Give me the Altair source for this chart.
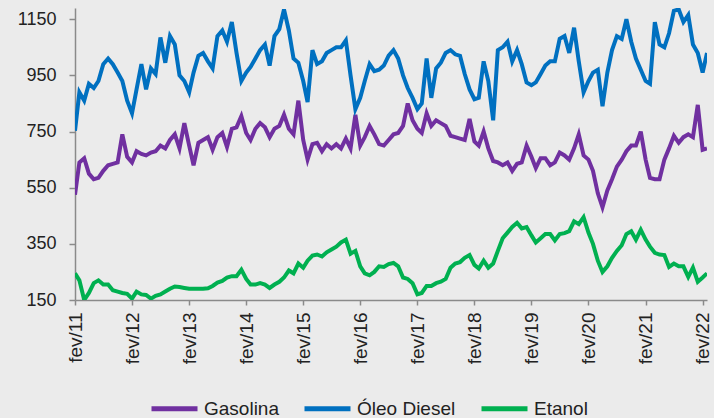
import altair as alt
import pandas as pd

# Monthly series, fev/2011 .. mar/2022
meses = pd.date_range("2011-02-01", periods=134, freq="MS").strftime("%Y-%m-%d").tolist()

gasolina = [
    525, 640, 655, 600, 580, 585, 610, 630, 635, 640, 740, 660,
    640, 680, 670, 665, 675, 680, 700, 690, 720, 740, 690, 780,
    700, 630, 710, 720, 730, 685, 730, 745, 695, 760, 765, 805,
    745, 720, 760, 780, 765, 730, 760, 770, 810, 760, 740, 860,
    720, 650, 705, 710, 680, 705, 690, 705, 690, 725, 690, 810,
    700, 730, 770, 740, 705, 700, 720, 740, 745, 770, 850, 790,
    760, 745, 815, 770, 790, 780, 770, 735, 730, 725, 720, 795,
    715, 700, 750, 690, 645, 640, 630, 640, 610, 635, 640, 700,
    660, 620, 655, 655, 630, 640, 675, 665, 650, 690, 740, 665,
    650, 610, 530, 480, 540, 580, 625, 650, 680, 700, 700, 750,
    650, 585, 580, 580, 650, 690, 735, 710, 730, 740, 730, 845,
    685, 690,
]

diesel = [
    753, 890, 860, 920, 905, 930, 990, 1010, 990, 960, 930, 860,
    815, 900, 990, 900, 975, 955, 1085, 995, 1090, 1060, 950, 930,
    890, 960, 1020, 1030, 1000, 975, 1090, 1110, 1070, 1140, 1030, 930,
    960, 980, 1010, 1040, 1060, 985, 1090, 1115, 1185, 1110, 1010, 995,
    930, 855, 1040, 990, 1000, 1030, 1040, 1050, 1050, 1075, 950, 830,
    870, 930, 990, 965, 970, 985, 1020, 1040, 1010, 950, 905, 870,
    830, 850, 1010, 870, 975, 995, 1030, 1040, 1025, 1020, 955, 900,
    865, 870, 1000, 930, 790, 1040, 1050, 1070, 1000, 1040, 990, 925,
    915, 925, 955, 985, 1000, 1000, 1080, 1090, 1030, 1120, 1000, 890,
    930, 960, 970, 840, 960, 1040, 1090, 1080, 1150, 1070, 1010, 970,
    930, 920, 1140, 1060, 1050, 1100, 1180, 1185, 1140, 1165, 1060, 1030,
    960, 1030,
]

etanol = [
    245, 220, 150, 175, 210, 220, 205, 205, 185, 180, 175, 172,
    155, 180, 170, 168, 155, 165, 170, 180, 190, 198, 196, 193,
    190, 190, 190, 190, 192, 200, 212, 218, 230, 235, 235, 258,
    225, 205, 205, 210, 205, 193, 205, 215, 230, 255, 245, 280,
    265, 290, 308, 312, 305, 320, 330, 340, 355, 365, 315, 325,
    270, 245, 238, 250, 270, 268, 278, 282, 270, 230, 225, 210,
    170, 175, 200, 200, 210, 215, 225, 265, 280, 285, 300, 310,
    275, 262, 290, 265, 280, 325, 370, 390, 410, 425, 405, 410,
    380, 355, 370, 385, 385, 362, 385, 388, 395, 430, 420, 445,
    390, 350, 290, 250, 270, 300, 325, 345, 385, 395, 365, 400,
    365, 340, 318, 312, 310, 268, 280, 270, 270, 232, 265, 215,
    230, 245,
]

series = ["Gasolina", "Óleo Diesel", "Etanol"]
cores = ["#7030A0", "#0070C0", "#00B050"]
y_ticks = [150, 350, 550, 750, 950, 1150]
anos = list(range(2011, 2023))

rows = []
for nome, valores in zip(series, [gasolina, diesel, etanol]):
    for m, v in zip(meses, valores):
        rows.append({"mes": m, "serie": nome, "valor": v})
df = pd.DataFrame(rows)

fonte = "Liberation Sans"
eixo = "#8a8a8a"

x_axis = alt.Axis(
    values=[alt.DateTime(year=a, month=2, date=1, utc=True) for a in anos],
    labelExpr="'fev/' + utcFormat(datum.value, '%y')",
    labelAngle=270,
    labelAlign="right",
    labelBaseline="middle",
    labelFont=fonte,
    labelFontSize=19,
    labelColor="#222222",
    labelPadding=7,
    tickSize=5,
    tickColor=eixo,
    tickWidth=1.5,
    domainColor=eixo,
    domainWidth=1.5,
    grid=False,
    title=None,
)

y_axis = alt.Axis(
    values=y_ticks,
    format="d",
    labelFont=fonte,
    labelFontSize=18,
    labelColor="#222222",
    labelPadding=13,
    tickSize=6,
    tickColor=eixo,
    tickWidth=1.5,
    domainColor=eixo,
    domainWidth=1.5,
    grid=False,
    title=None,
)

legend = alt.Legend(
    orient="none",
    legendX=74,
    legendY=375,
    direction="horizontal",
    title=None,
    symbolType="stroke",
    symbolSize=2116,
    symbolStrokeWidth=5,
    labelFont=fonte,
    labelFontSize=19,
    labelColor="#222222",
    labelOffset=4,
    columnPadding=15,
)

chart = (
    alt.Chart(df)
    .mark_line(strokeWidth=4, clip=True)
    .encode(
        x=alt.X(
            "mes:T",
            scale=alt.Scale(
                type="utc",
                domain=[
                    alt.DateTime(year=2011, month=2, date=1, utc=True),
                    alt.DateTime(year=2022, month=3, date=1, utc=True),
                ],
            ),
            axis=x_axis,
        ),
        y=alt.Y(
            "valor:Q",
            scale=alt.Scale(domain=[150, 1190], nice=False, zero=False),
            axis=y_axis,
        ),
        color=alt.Color(
            "serie:N",
            scale=alt.Scale(domain=series, range=cores),
            legend=legend,
        ),
        order=alt.Order("mes:T"),
    )
    .properties(
        width=632,
        height=292,
        padding={"left": 75, "top": 8, "right": 7, "bottom": 118},
        autosize=alt.AutoSizeParams(type="none"),
        background="#EBEBEB",
    )
    .configure_view(stroke=None)
)

chart.save("out.html", embed_options={"renderer": "svg", "actions": False})
